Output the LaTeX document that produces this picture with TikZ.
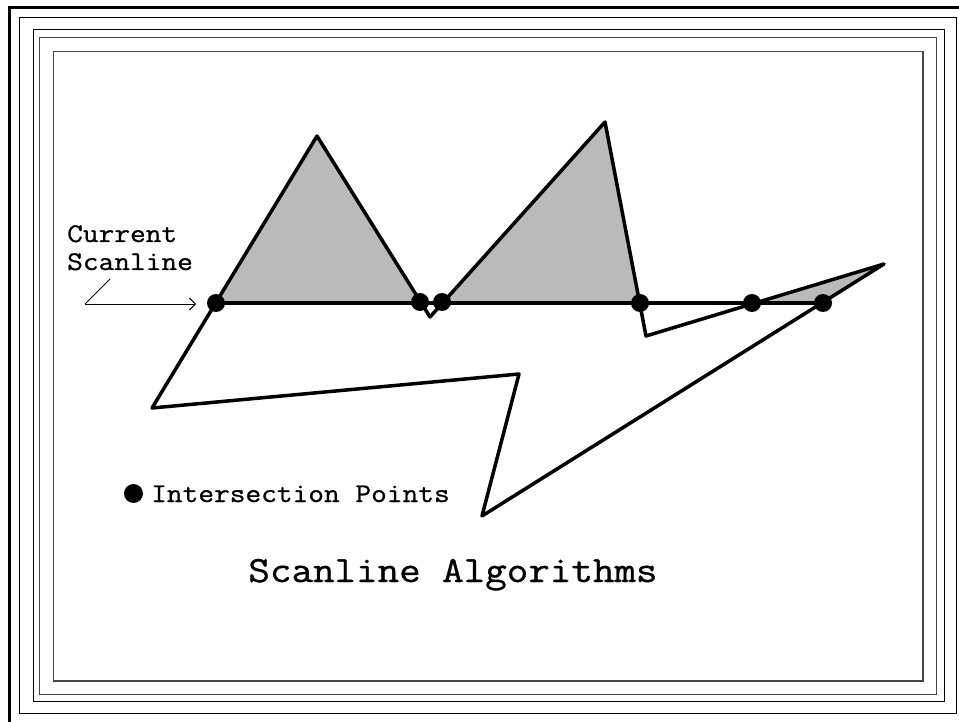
\documentclass[tikz,border=0pt]{standalone}
\usepackage{fontspec}
\newfontfamily\courfont[FakeStretch=1.13,FakeBold=0.9]{Latin Modern Mono}
\usetikzlibrary{arrows.meta}
\definecolor{fillgray}{RGB}{186,186,186}
\definecolor{framegray}{RGB}{70,70,70}
\begin{document}
\begin{tikzpicture}[x=1pt,y=-1pt,
  edge/.style={line width=3.5pt, line join=round, line cap=round},
  ipt/.style={circle, fill=black, inner sep=0pt, minimum size=18pt},
  frameA/.style={line width=3pt},
  frameB/.style={line width=1.6pt},
  frameC/.style={line width=1.6pt, draw=framegray},
  lbl/.style={font=\courfont\fontsize{27}{27}\selectfont, inner sep=0pt, anchor=base west},
  ttl/.style={font=\courfont\fontsize{37}{37}\selectfont, inner sep=0pt, anchor=base},
  pointer/.style={line width=1pt, -{Straight Barb[length=6pt,width=12pt,line width=1pt]}}
]
\useasboundingbox (0,0) rectangle (959,722);
\fill[white] (0,0) rectangle (959,722);
% frames
\draw[frameA] (9.5,740) -- (9.5,7.5) -- (975,7.5);
\draw[frameB] (19.5,17.5) rectangle (956.5,713.5);
\draw[frameB] (33.5,29.5) rectangle (944.5,701.5);
\draw[frameC] (39.5,37.5) rectangle (936.5,694.5);
\draw[frameC] (53.5,51.5) rectangle (923,681);
% polygon vertices
\coordinate (p1) at (152,408);
\coordinate (p2) at (317,136);
\coordinate (p3) at (430,317);
\coordinate (p4) at (605,122);
\coordinate (p5) at (646,336);
\coordinate (p6) at (884,264);
\coordinate (p7) at (482,516);
\coordinate (p8) at (519,374);
% fill above scanline
\begin{scope}
  \clip (0,0) rectangle (959,303);
  \fill[fillgray] (p1) -- (p2) -- (p3) -- (p4) -- (p5) -- (p6) -- (p7) -- (p8) -- cycle;
\end{scope}
% polygon outline
\draw[edge] (p1) -- (p2) -- (p3) -- (p4) -- (p5) -- (p6) -- (p7) -- (p8) -- cycle;
% intersection points
\node[ipt] (i1) at (216,303) {};
\node[ipt] (i2) at (420,302) {};
\node[ipt] (i3) at (442,302) {};
\node[ipt] (i4) at (640,303) {};
\node[ipt] (i5) at (752,303) {};
\node[ipt] (i6) at (823,303) {};
\draw[line width=3pt] (i1.center) -- (i6.center);
% current scanline label and pointer
\node[lbl] (cur) at (67,242) {Current};
\node[lbl] (scn) at (67,270) {Scanline};
\coordinate (ptop) at (110,279);
\coordinate (pcorner) at (85,304);
\coordinate (ptip) at (196,304);
\draw[line width=1pt] (ptop) -- (pcorner);
\draw[pointer] (pcorner) -- (ptip);
% legend
\node[ipt, minimum size=19pt] (leg) at (133.5,493.5) {};
\node[lbl] (legtxt) at (151,502) {Intersection Points};
% title
\node[ttl] (title) at (453,582) {Scanline Algorithms};
\end{tikzpicture}
\end{document}
